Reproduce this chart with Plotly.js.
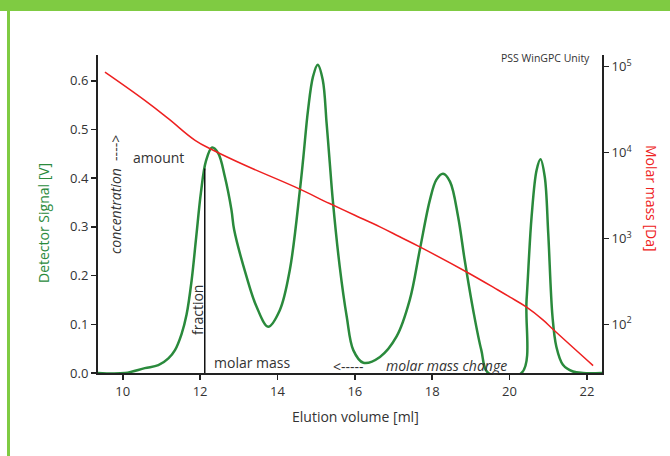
<!DOCTYPE html>
<html>
<head>
<meta charset="utf-8">
<script src="https://cdn.plot.ly/plotly-3.0.1.min.js"></script>
<style>
  html, body { margin: 0; padding: 0; background: #fff; }
  #chart { width: 670px; height: 456px; }
</style>
</head>
<body>
<div id="chart"></div>
<script>
// Detector signal (green) – elution volume [ml] vs signal [V]
var signalX = [9.36, 10.06, 10.57, 10.92, 11.18, 11.35, 11.52, 11.65, 11.78, 11.9, 12.02, 12.15, 12.31, 12.47, 12.64, 12.81, 12.88, 13.2, 13.46, 13.76, 14.06, 14.32, 14.58, 14.67, 14.79, 14.92, 15.04, 15.17, 15.27, 15.34, 15.43, 15.61, 15.79, 15.96, 16.22, 16.65, 17.08, 17.42, 17.68, 17.94, 18.11, 18.28, 18.46, 18.67, 18.84, 19.06, 19.27, 19.45, 20.31, 20.44, 20.57, 20.7, 20.8, 20.91, 21.0, 21.11, 21.21, 21.38, 21.64, 21.9, 22.39];
var signalY = [0, 0, 0.01, 0.016, 0.03, 0.047, 0.08, 0.12, 0.19, 0.28, 0.37, 0.435, 0.463, 0.451, 0.403, 0.335, 0.294, 0.198, 0.136, 0.095, 0.129, 0.212, 0.376, 0.444, 0.54, 0.609, 0.633, 0.602, 0.513, 0.444, 0.355, 0.218, 0.116, 0.047, 0.021, 0.033, 0.075, 0.15, 0.253, 0.355, 0.397, 0.409, 0.393, 0.321, 0.232, 0.129, 0.047, 0, 0, 0.15, 0.321, 0.417, 0.439, 0.403, 0.287, 0.116, 0.054, 0.017, 0.003, 0, 0];

// Molar mass calibration (red) – elution volume [ml] vs molar mass [Da]
var massX = [9.54, 10.57, 11.18, 11.87, 12.34, 13.16, 14.45, 15.35, 16.0, 16.65, 17.16, 17.68, 18.89, 19.7, 20.0, 20.44, 20.87, 21.13, 22.16];
var massLog = [4.937, 4.608, 4.395, 4.143, 4.027, 3.852, 3.60, 3.407, 3.271, 3.135, 3.02, 2.902, 2.61, 2.40, 2.32, 2.2, 2.05, 1.94, 1.52];
var massY = massLog.map(function (l) { return Math.pow(10, l); });

// Fraction marker
var fractionX = 12.12;
var fractionTop = 0.42;

var leftTicks = [0, 0.1, 0.2, 0.3, 0.4, 0.5, 0.6];
var bottomTicks = [10, 12, 14, 16, 18, 20, 22];
var rightTicks = [100, 1000, 10000, 100000];
var rightTickText = ["10<sup>2</sup>", "10<sup>3</sup>", "10<sup>4</sup>", "10<sup>5</sup>"];

var L = 98, R = 602, T = 55, B = 373;
function px(x) { return (x - L) / (R - L); }
function py(y) { return (B - y) / (B - T); }

var FONT = "Open Sans, Noto Sans, sans-serif";
var GREEN = "#2a8a3c";
var RED = "#ee2020";
var BAND = "#7fcb42";

var traces = [
  {
    x: signalX, y: signalY, type: "scatter", mode: "lines",
    line: { color: GREEN, width: 2.5, shape: "spline", smoothing: 1 },
    xaxis: "x", yaxis: "y", hoverinfo: "skip"
  },
  {
    x: massX, y: massY, type: "scatter", mode: "lines",
    line: { color: RED, width: 1.5, shape: "spline", smoothing: 1.2 },
    xaxis: "x", yaxis: "y2", hoverinfo: "skip"
  }
];

function ann(text, x, y, opts) {
  var a = {
    text: text, xref: "paper", yref: "paper", x: px(x), y: py(y),
    xanchor: "center", yanchor: "middle", showarrow: false,
    font: { family: FONT, size: 14, color: "#333" }
  };
  for (var k in opts) a[k] = opts[k];
  return a;
}

var layout = {
  width: 670, height: 456,
  margin: { l: L, r: 670 - R, t: T, b: 456 - B, pad: 0 },
  paper_bgcolor: "#fff", plot_bgcolor: "#fff",
  showlegend: false,
  font: { family: FONT, size: 13, color: "#333" },
  xaxis: {
    range: [9.36, 22.39], tickvals: bottomTicks, ticks: "outside", ticklen: 5, tickwidth: 1.5,
    tickcolor: "#222", showline: true, linecolor: "#222", linewidth: 2,
    showgrid: false, zeroline: false, tickfont: { size: 13, color: "#333" }
  },
  yaxis: {
    range: [0, 0.653], tickvals: leftTicks, tickformat: ".1f", ticks: "outside", ticklen: 5, tickwidth: 1.5,
    tickcolor: "#222", showline: true, linecolor: "#222", linewidth: 2,
    showgrid: false, zeroline: false, tickfont: { size: 13, color: "#333" }
  },
  yaxis2: {
    type: "log", range: [1.434, 5.136], overlaying: "y", side: "right",
    tickvals: rightTicks, ticktext: rightTickText, ticks: "outside", ticklen: 5, tickwidth: 1.5,
    tickcolor: "#222", showline: true, linecolor: "#222", linewidth: 2,
    showgrid: false, zeroline: false, tickfont: { size: 13, color: "#333" }
  },
  shapes: [
    { type: "rect", xref: "paper", yref: "paper", x0: px(-5), x1: px(680), y0: py(11), y1: py(-5),
      fillcolor: BAND, line: { width: 0 }, layer: "below" },
    { type: "rect", xref: "paper", yref: "paper", x0: px(7), x1: px(10), y0: py(470), y1: py(10),
      fillcolor: BAND, line: { width: 0 }, layer: "below" },
    { type: "line", xref: "x", yref: "y", x0: fractionX, x1: fractionX, y0: 0, y1: fractionTop,
      line: { color: "#111", width: 1.5 } }
  ],
  annotations: [
    ann("Elution volume [ml]", 355, 416, {}),
    ann("Detector Signal [V]", 43, 223, { textangle: -90, font: { family: FONT, size: 14, color: GREEN } }),
    ann("Molar mass [Da]", 652, 198, { textangle: 90, font: { family: FONT, size: 14, color: RED } }),
    ann("PSS WinGPC Unity", 592, 58, { xanchor: "right", font: { family: FONT, size: 10.5, color: "#333" } }),
    ann("amount", 158, 157, {}),
    ann("<i>concentration</i>  ---->", 115, 195, { textangle: -90 }),
    ann("fraction", 197, 310, { textangle: -90 }),
    ann("molar mass", 252, 362, {}),
    ann("<-----", 348, 366, {}),
    ann("<i>molar mass change</i>", 446, 365, {})
  ]
};

Plotly.newPlot("chart", traces, layout, { staticPlot: true, displayModeBar: false });
</script>
</body>
</html>
